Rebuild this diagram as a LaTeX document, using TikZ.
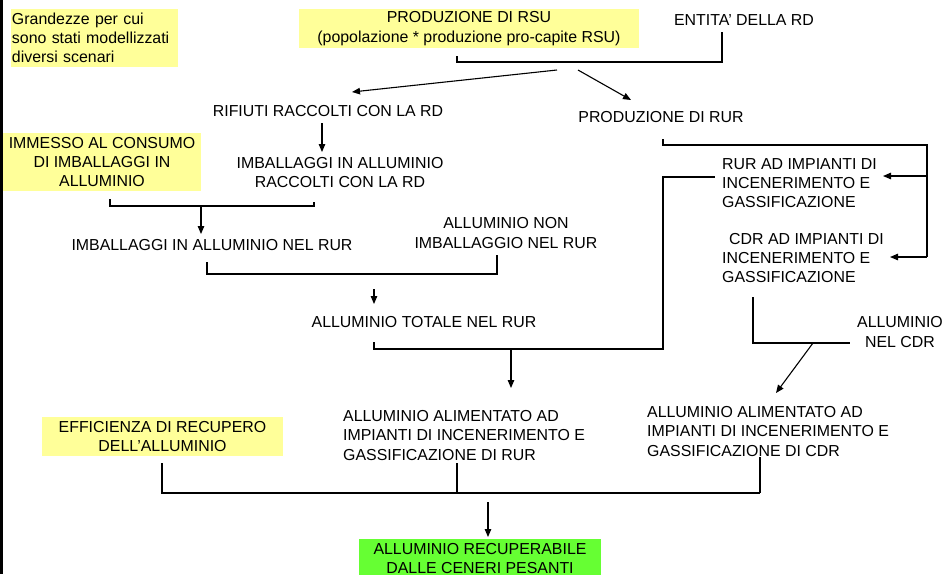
\documentclass[tikz,border=0pt]{standalone}
\usepackage{fontspec}
\setmainfont{Liberation Sans}
\usetikzlibrary{arrows.meta}
\definecolor{yel}{HTML}{FFFF99}
\definecolor{grn}{HTML}{66FF33}
\begin{document}
\begin{tikzpicture}[x=1pt,y=-1pt,
  txt/.style={inner sep=0pt, font=\fontsize{15.9}{19.3}\selectfont, align=center},
  ybox/.style={txt, fill=yel},
  gbox/.style={txt, fill=grn},
  thinln/.style={line width=1.1pt},
  thickln/.style={line width=2.4pt},
  arr/.style={thinln, -{Triangle[length=8pt,width=6.5pt]}}]
\useasboundingbox (0,0) rectangle (948,574);
\fill[white] (0,0) rectangle (948,574);
\fill[black] (0,0) rectangle (3,574);

% yellow / green boxes
\node[ybox, align=left, text width=165pt, inner xsep=1pt, minimum height=58pt] (grand) at (94.5,38) {Grandezze per cui\\sono stati modellizzati\\diversi scenari};
\node[ybox, minimum width=340pt, minimum height=39pt] (rsu) at (469,28.5) {PRODUZIONE DI RSU\\(popolazione * produzione pro-capite RSU)};
\node[ybox, minimum width=198pt, minimum height=58pt] (imm) at (102,162) {IMMESSO AL CONSUMO\\DI IMBALLAGGI IN\\ALLUMINIO};
\node[ybox, minimum width=241pt, minimum height=39pt] (eff) at (162.5,436.5) {EFFICIENZA DI RECUPERO\\DELL’ALLUMINIO};
\node[gbox, minimum width=242pt, minimum height=39pt] (rec) at (480,558.5) {ALLUMINIO RECUPERABILE\\DALLE CENERI PESANTI};

% plain text nodes
\node[txt] (ent) at (744,20) {ENTITA’ DELLA RD};
\node[txt] (rif) at (328,111) {RIFIUTI RACCOLTI CON LA RD};
\node[txt] (rur) at (661,117) {PRODUZIONE DI RUR};
\node[txt] (imbrd) at (340,172.5) {IMBALLAGGI IN ALLUMINIO\\RACCOLTI CON LA RD};
\node[txt] (imbrur) at (212,245) {IMBALLAGGI IN ALLUMINIO NEL RUR};
\node[txt] (nonimb) at (506,233) {ALLUMINIO NON\\IMBALLAGGIO NEL RUR};
\node[txt] (tot) at (424,322) {ALLUMINIO TOTALE NEL RUR};
\node[txt, align=left, anchor=west] (rurimp) at (722,183) {RUR AD IMPIANTI DI\\INCENERIMENTO E\\GASSIFICAZIONE};
\node[txt, align=left, anchor=west] (cdrimp) at (722,258) {\hspace{7pt}CDR AD IMPIANTI DI\\INCENERIMENTO E\\GASSIFICAZIONE};
\node[txt] (alcdr) at (900,332) {ALLUMINIO\\NEL CDR};
\node[txt, align=left, anchor=west] (alimcdr) at (647,431.5) {ALLUMINIO ALIMENTATO AD\\IMPIANTI DI INCENERIMENTO E\\GASSIFICAZIONE DI CDR};
\node[txt, align=left, anchor=west] (alimrur) at (343,435.5) {ALLUMINIO ALIMENTATO AD\\IMPIANTI DI INCENERIMENTO E\\GASSIFICAZIONE DI RUR};

% junction coordinates
\coordinate (rsuS) at (457,56);
\coordinate (entS) at (722,32);
\coordinate (a1s) at (557,70);
\coordinate (a1e) at (352,92);
\coordinate (a2s) at (578,70);
\coordinate (a2e) at (631,100);
\coordinate (rifS) at (322,123);
\coordinate (imbrdN) at (322,152);
\coordinate (immS) at (110,199);
\coordinate (imbrdS) at (314,202);
\coordinate (b1) at (201,206);
\coordinate (imbrurN) at (201,234);
\coordinate (imbrurS) at (207,262);
\coordinate (nonimbS) at (497,255);
\coordinate (b2) at (374,274);
\coordinate (b2a) at (374,289);
\coordinate (totN) at (374,304);
\coordinate (totS) at (374,342);
\coordinate (rurimpW) at (715,177);
\coordinate (b3) at (511,349);
\coordinate (alimrurN) at (511,388);
\coordinate (rurS) at (663,139);
\coordinate (rB) at (927,145);
\coordinate (rurimpE) at (883,176);
\coordinate (cdrimpE) at (890,257);
\coordinate (cdrimpS) at (753,297);
\coordinate (alcdrW) at (850,343);
\coordinate (b4) at (813,343);
\coordinate (alimcdrN) at (776,393);
\coordinate (effS) at (162,463);
\coordinate (alimrurS) at (457,463);
\coordinate (alimcdrS) at (760,457);
\coordinate (b5) at (488,502);
\coordinate (recN) at (488,537);

% connectors
\draw[thickln] (rsuS) |- (entS |- 0,62) -- (entS);
\draw[arr] (a1s) -- (a1e);
\draw[arr] (a2s) -- (a2e);
\draw[arr] (rifS) -- (imbrdN);
\draw[thinln] (immS) |- (imbrdS |- b1) -- (imbrdS);
\draw[arr] (b1) -- (imbrurN);
\draw[thinln] (imbrurS) |- (nonimbS |- b2) -- (nonimbS);
\draw[arr] (b2a) -- (totN);
\draw[thinln] (totS) |- (663,349) |- (rurimpW);
\draw[arr] (b3) -- (alimrurN);
\draw[thinln] (rurS) |- (rB) -- (rB |- cdrimpE);
\draw[arr] (rB |- rurimpE) -- (rurimpE);
\draw[arr] (rB |- cdrimpE) -- (cdrimpE);
\draw[thickln] (cdrimpS) |- (alcdrW);
\draw[arr] (b4) -- (alimcdrN);
\draw[thinln] (effS) |- (alimcdrS |- 0,493);
\draw[thinln] (alimrurS) -- (alimrurS |- 0,493);
\draw[thickln] (alimcdrS) -- (alimcdrS |- 0,493);
\draw[arr] (b5) -- (recN);
\end{tikzpicture}
\end{document}
